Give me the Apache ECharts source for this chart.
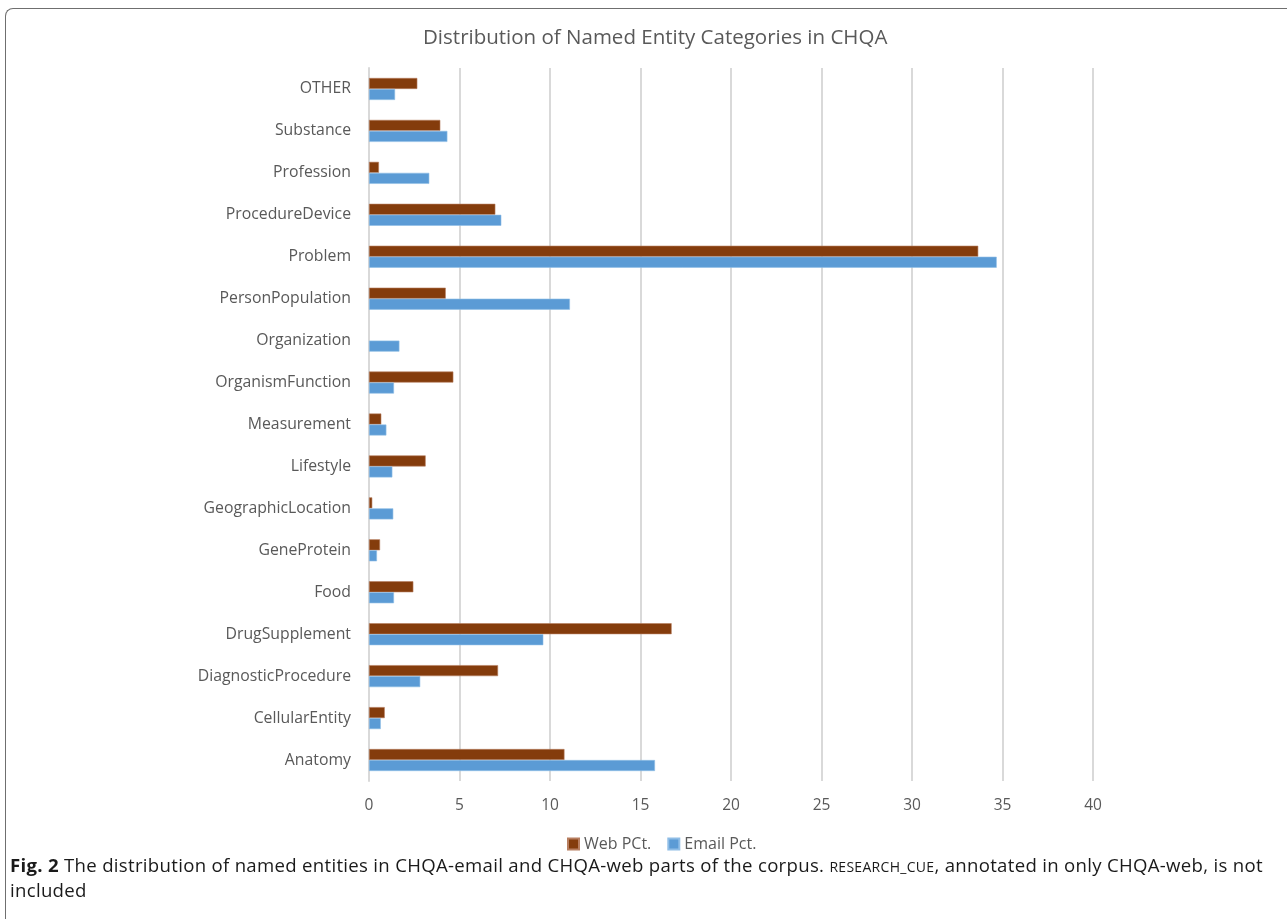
<!DOCTYPE html>
<html>
<head>
<meta charset="utf-8">
<script src="https://cdn.jsdelivr.net/npm/echarts@6/dist/echarts.min.js"></script>
<style>
  html, body { margin: 0; padding: 0; background: #fff; }
  #frame {
    position: absolute; left: 5px; top: 8px; width: 1300px; height: 1000px;
    border-left: 1px solid #6f6f6f; border-top: 1px solid #6f6f6f;
    border-top-left-radius: 8px;
  }
  #chart { position: absolute; left: 0; top: 0; width: 1287px; height: 860px; }
  #caption {
    position: absolute; left: 10px; top: 853px; width: 1268px;
    font-family: "Open Sans", sans-serif; font-size: 18.6px; line-height: 23px;
    color: #1a1a1a; letter-spacing: 0.3px;
  }
  #caption b { font-weight: bold; }
  #caption .sc { font-size: 14px; letter-spacing: 0.3px; }
</style>
</head>
<body>
<div id="frame"></div>
<div id="chart"></div>
<div id="caption"><b>Fig. 2</b> The distribution of named entities in CHQA-email and CHQA-web parts of the corpus. <span class="sc">RESEARCH_CUE</span>, annotated in only CHQA-web, is not included</div>
<script>
// categories listed bottom to top (ECharts category y axis starts at bottom)
const categories = ['Anatomy', 'CellularEntity', 'DiagnosticProcedure', 'DrugSupplement', 'Food',
  'GeneProtein', 'GeographicLocation', 'Lifestyle', 'Measurement', 'OrganismFunction',
  'Organization', 'PersonPopulation', 'Problem', 'ProcedureDevice', 'Profession', 'Substance', 'OTHER'];

const webPct = [10.8, 0.87, 7.13, 16.72, 2.45, 0.61, 0.18, 3.13, 0.68, 4.66,
  null, 4.24, 33.66, 6.98, 0.55, 3.94, 2.67];

const emailPct = [15.8, 0.65, 2.83, 9.63, 1.38, 0.44, 1.34, 1.29, 0.96, 1.38,
  1.68, 11.1, 34.68, 7.31, 3.33, 4.33, 1.44];

const xTicks = { min: 0, max: 40, interval: 5 };

const chart = echarts.init(document.getElementById('chart'));
const font = '"Open Sans", sans-serif';

chart.setOption({
  animation: false,
  title: {
    text: 'Distribution of Named Entity Categories in CHQA',
    left: 418, top: 23,
    textStyle: { fontFamily: font, fontSize: 20.5, fontWeight: 'normal', color: '#595959' }
  },
  legend: {
    data: ['Web PCt.', 'Email Pct.'],
    left: 562, top: 831, itemGap: 16,
    itemWidth: 11, itemHeight: 11, icon: 'rect',
    textStyle: { fontFamily: font, fontSize: 16, color: '#595959' }
  },
  grid: { left: 369, right: 194, top: 68, height: 713 },
  xAxis: {
    type: 'value', min: xTicks.min, max: xTicks.max, interval: xTicks.interval,
    axisLine: { show: false }, axisTick: { show: false },
    axisLabel: { fontFamily: font, fontSize: 15.5, color: '#595959', margin: 17 },
    splitLine: { lineStyle: { color: '#d9d9d9', width: 2 } }
  },
  yAxis: {
    type: 'category', data: categories,
    axisLine: { lineStyle: { color: '#d9d9d9', width: 2 } },
    axisTick: { show: false },
    axisLabel: { fontFamily: font, fontSize: 15.8, color: '#595959', margin: 18 }
  },
  series: [
    {
      name: 'Web PCt.', type: 'bar', data: webPct, barWidth: 11, barGap: '0%',
      itemStyle: { color: '#843c0c', borderColor: '#b77e60', borderWidth: 0.6 }
    },
    {
      name: 'Email Pct.', type: 'bar', data: emailPct, barWidth: 11,
      itemStyle: { color: '#5b9bd5', borderColor: '#8fbde6', borderWidth: 0.6 }
    }
  ]
});
</script>
</body>
</html>
